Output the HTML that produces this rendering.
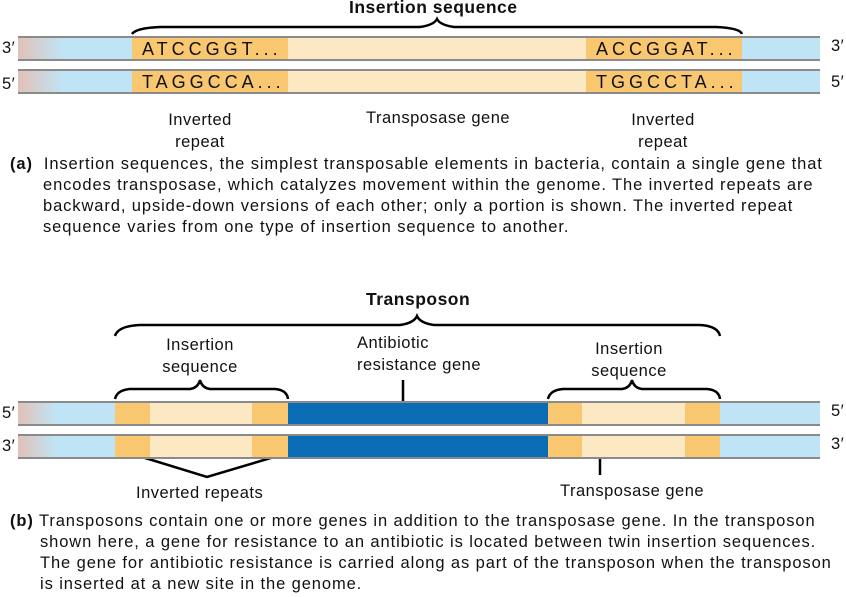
<!DOCTYPE html>
<html><head><style>
body{margin:0;width:846px;height:597px;background:#fff;font-family:"Liberation Sans",sans-serif;position:relative;overflow:hidden;color:#111}
.t{position:absolute;font-size:16.5px;letter-spacing:0.5px;white-space:nowrap}
.c{text-align:center}
.bar{position:absolute;height:21px;border-top:2px solid #8a8a8a;border-bottom:2px solid #8a8a8a;box-sizing:content-box}
.seg{position:absolute;top:0;height:100%}
.seq{position:absolute;font-size:18px;letter-spacing:4px;top:1px}
.cap{font-size:16.5px;letter-spacing:0.9px;line-height:21px}
</style></head><body>
<svg width="846" height="597" style="position:absolute;left:0;top:0">
<g fill="none" stroke="#000" stroke-width="2.5">
<path d="M132,34 Q136,28 160,27 L420,27 Q434,25 437,19 Q440,25 454,27 L716,27 Q740,28 742,34"/>
<path d="M115,336 Q118,326 140,325 L400,325 Q414,323 417,316 Q420,323 434,325 L700,325 Q718,326 720,336"/>
<path d="M115,399 Q117,390 130,389 L190,389 Q198,388 200,380 Q202,388 210,389 L275,389 Q287,390 288,399"/>
<path d="M548,399 Q550,390 563,389 L622,389 Q630,388 632,380 Q634,388 642,389 L707,389 Q719,390 720,399"/>
<path d="M142,457 L207,477 L274,457"/>
<path d="M403,380 L403,411"/>
<path d="M600,445 L600,475"/>
</g></svg>
<div class="t" style="left:349px;top:-3px;font-weight:bold;font-size:17.5px;letter-spacing:0.5px">Insertion sequence</div>
<div class="t" style="left:2px;top:39px">3′</div><div class="t" style="left:831px;top:37px">3′</div>
<div class="t" style="left:2px;top:75px">5′</div><div class="t" style="left:831px;top:73px">5′</div>
<div class="bar" style="left:18px;top:36px;width:802px">
<div class="seg" style="left:0;width:114px;background:linear-gradient(90deg,#e2c1b8,#bfe4f5 40%,#bfe4f5)"></div>
<div class="seg" style="left:114px;width:156px;background:#f8c770"></div>
<div class="seg" style="left:270px;width:298px;background:#fce9c4"></div>
<div class="seg" style="left:568px;width:156px;background:#f8c770"></div>
<div class="seg" style="left:724px;width:78px;background:#bfe4f5"></div>
<div class="seq" style="left:124px">ATCCGGT...</div><div class="seq" style="left:578px">ACCGGAT...</div>
</div>
<div class="bar" style="left:18px;top:69px;width:802px">
<div class="seg" style="left:0;width:114px;background:linear-gradient(90deg,#e2c1b8,#bfe4f5 40%,#bfe4f5)"></div>
<div class="seg" style="left:114px;width:156px;background:#f8c770"></div>
<div class="seg" style="left:270px;width:298px;background:#fce9c4"></div>
<div class="seg" style="left:568px;width:156px;background:#f8c770"></div>
<div class="seg" style="left:724px;width:78px;background:#bfe4f5"></div>
<div class="seq" style="left:124px">TAGGCCA...</div><div class="seq" style="left:578px">TGGCCTA...</div>
</div>
<div class="t c" style="left:150px;top:109px;width:100px;line-height:22px">Inverted<br>repeat</div>
<div class="t" style="left:366px;top:109px">Transposase gene</div>
<div class="t c" style="left:613px;top:109px;width:100px;line-height:22px">Inverted<br>repeat</div>
<div class="t cap" style="left:10px;top:154px"><b>(a)</b>&nbsp; Insertion sequences, the simplest transposable elements in bacteria, contain a single gene that<br><span style="padding-left:33px">encodes transposase, which catalyzes movement within the genome. The inverted repeats are</span><br><span style="padding-left:33px">backward, upside-down versions of each other; only a portion is shown. The inverted repeat</span><br><span style="padding-left:33px">sequence varies from one type of insertion sequence to another.</span></div>
<div class="t" style="left:366px;top:289px;font-weight:bold;font-size:17.5px;letter-spacing:0.5px">Transposon</div>
<div class="t c" style="left:150px;top:334px;width:100px;line-height:22px">Insertion<br>sequence</div>
<div class="t" style="left:357px;top:332px;line-height:22px">Antibiotic<br>resistance gene</div>
<div class="t c" style="left:579px;top:338px;width:100px;line-height:22px">Insertion<br>sequence</div>
<div class="t" style="left:2px;top:404px">5′</div><div class="t" style="left:831px;top:402px">5′</div>
<div class="t" style="left:2px;top:437px">3′</div><div class="t" style="left:831px;top:435px">3′</div>
<div class="bar" style="left:18px;top:401px;width:802px">
<div class="seg" style="left:0;width:97px;background:linear-gradient(90deg,#e2c1b8,#bfe4f5 40%,#bfe4f5)"></div>
<div class="seg" style="left:97px;width:35px;background:#f8c770"></div>
<div class="seg" style="left:132px;width:102px;background:#fce9c4"></div>
<div class="seg" style="left:234px;width:36px;background:#f8c770"></div>
<div class="seg" style="left:270px;width:260px;background:#0a6cb4"></div>
<div class="seg" style="left:530px;width:34px;background:#f8c770"></div>
<div class="seg" style="left:564px;width:103px;background:#fce9c4"></div>
<div class="seg" style="left:667px;width:35px;background:#f8c770"></div>
<div class="seg" style="left:702px;width:100px;background:#bfe4f5"></div>
</div>
<div class="bar" style="left:18px;top:434px;width:802px">
<div class="seg" style="left:0;width:97px;background:linear-gradient(90deg,#e2c1b8,#bfe4f5 40%,#bfe4f5)"></div>
<div class="seg" style="left:97px;width:35px;background:#f8c770"></div>
<div class="seg" style="left:132px;width:102px;background:#fce9c4"></div>
<div class="seg" style="left:234px;width:36px;background:#f8c770"></div>
<div class="seg" style="left:270px;width:260px;background:#0a6cb4"></div>
<div class="seg" style="left:530px;width:34px;background:#f8c770"></div>
<div class="seg" style="left:564px;width:103px;background:#fce9c4"></div>
<div class="seg" style="left:667px;width:35px;background:#f8c770"></div>
<div class="seg" style="left:702px;width:100px;background:#bfe4f5"></div>
</div>
<div class="t" style="left:136px;top:484px">Inverted repeats</div>
<div class="t" style="left:560px;top:482px">Transposase gene</div>
<div class="t cap" style="left:10px;top:511px"><b>(b)</b> Transposons contain one or more genes in addition to the transposase gene. In the transposon<br><span style="padding-left:30px">shown here, a gene for resistance to an antibiotic is located between twin insertion sequences.</span><br><span style="padding-left:30px">The gene for antibiotic resistance is carried along as part of the transposon when the transposon</span><br><span style="padding-left:30px">is inserted at a new site in the genome.</span></div>
</body></html>
